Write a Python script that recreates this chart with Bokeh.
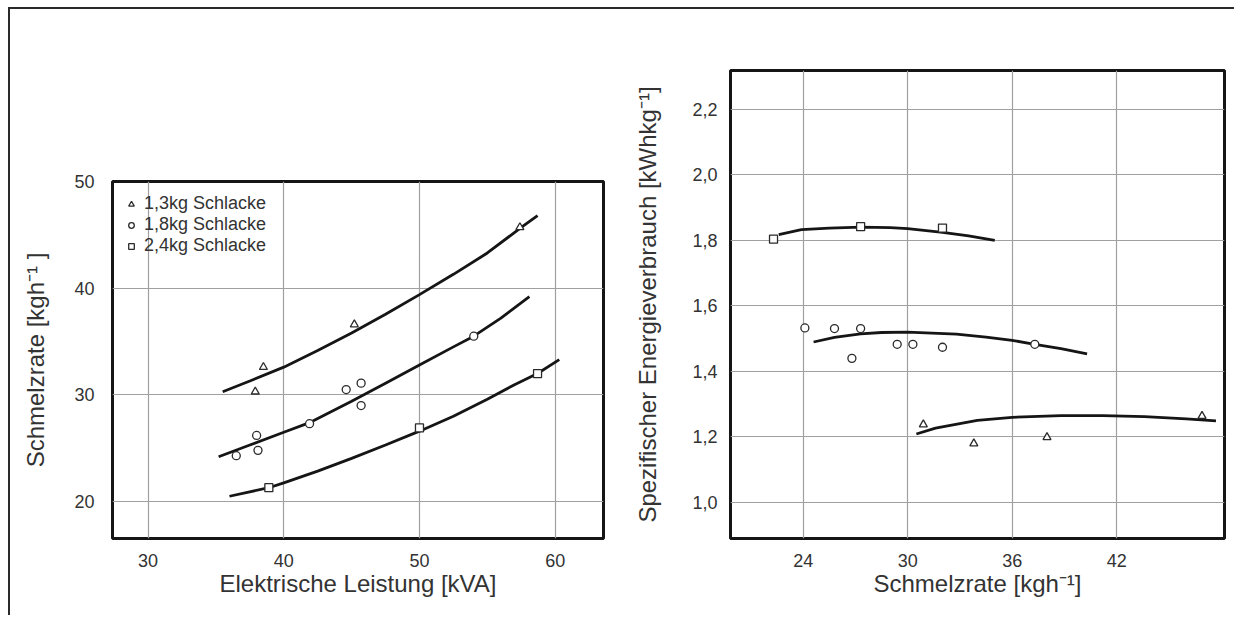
from bokeh.plotting import figure
from bokeh.layouts import row
from bokeh.models import Range1d, FixedTicker, Legend, LegendItem
from bokeh.embed import file_html
from bokeh.resources import INLINE

FONT = "Liberation Sans"
TXT = "#333333"
INK = "#151515"
GRID = "#a0a0a0"

# ---------------- left chart data ----------------
left_x_ticks = [30, 40, 50, 60]
left_y_ticks = [20, 30, 40, 50]
series_labels = ["1,3kg Schlacke", "1,8kg Schlacke", "2,4kg Schlacke"]

l_tri_x = [38.5, 37.9, 45.2, 57.4]
l_tri_y = [32.6, 30.3, 36.6, 45.7]
l_circ_x = [36.5, 38.0, 38.1, 41.9, 44.6, 45.7, 45.7, 54.0]
l_circ_y = [24.3, 26.2, 24.8, 27.3, 30.5, 31.1, 29.0, 35.5]
l_sq_x = [38.9, 50.0, 58.7]
l_sq_y = [21.3, 26.9, 32.0]

l_fit1_x = [35.5, 37.5, 40.0, 42.5, 45.0, 47.5, 50.0, 52.5, 55.0, 57.5, 58.7]
l_fit1_y = [30.3, 31.3, 32.6, 34.15, 35.8, 37.55, 39.4, 41.3, 43.3, 45.7, 46.8]
l_fit2_x = [35.2, 37.5, 40.0, 42.0, 45.0, 47.5, 50.0, 52.5, 54.0, 56.0, 58.1]
l_fit2_y = [24.2, 25.3, 26.5, 27.45, 29.4, 31.1, 32.8, 34.5, 35.5, 37.2, 39.2]
l_fit3_x = [36.0, 38.9, 40.0, 42.5, 45.0, 47.5, 50.0, 52.5, 55.0, 57.0, 58.7, 60.3]
l_fit3_y = [20.5, 21.3, 21.75, 22.85, 24.05, 25.3, 26.6, 28.0, 29.6, 30.95, 32.0, 33.3]

# ---------------- right chart data ----------------
right_x_ticks = [24, 30, 36, 42]
right_y_ticks = [1.0, 1.2, 1.4, 1.6, 1.8, 2.0, 2.2]
right_y_labels = ["1,0", "1,2", "1,4", "1,6", "1,8", "2,0", "2,2"]

r_sq_x = [22.3, 27.3, 32.0]
r_sq_y = [1.804, 1.842, 1.838]
r_circ_x = [24.1, 25.8, 27.3, 26.8, 29.4, 30.3, 32.0, 37.3]
r_circ_y = [1.533, 1.531, 1.531, 1.440, 1.483, 1.483, 1.474, 1.483]
r_tri_x = [30.9, 33.8, 38.0, 46.9]
r_tri_y = [1.238, 1.180, 1.199, 1.264]

r_fit_sq_x = [22.6, 23.9, 25.5, 27.3, 29.0, 30.0, 32.0, 33.5, 35.0]
r_fit_sq_y = [1.818, 1.833, 1.838, 1.841, 1.839, 1.836, 1.825, 1.814, 1.800]
r_fit_circ_x = [24.6, 25.8, 27.3, 28.5, 30.0, 32.8, 34.5, 36.0, 37.3, 38.8, 40.3]
r_fit_circ_y = [1.490, 1.504, 1.515, 1.519, 1.520, 1.514, 1.505, 1.495, 1.483, 1.470, 1.454]
r_fit_tri_x = [30.5, 31.6, 34.0, 36.0, 38.8, 41.2, 43.6, 46.0, 47.7]
r_fit_tri_y = [1.209, 1.227, 1.251, 1.260, 1.265, 1.265, 1.262, 1.255, 1.249]


def style(p, xlabel, ylabel, ytick_standoff, ylab_standoff):
    p.background_fill_color = "white"
    p.border_fill_color = "white"
    p.outline_line_color = INK
    p.outline_line_width = 3
    p.grid.grid_line_color = GRID
    p.grid.grid_line_width = 1.2
    for ax in p.axis:
        ax.axis_line_color = None
        ax.major_tick_line_color = None
        ax.minor_tick_line_color = None
        ax.major_label_text_font = FONT
        ax.major_label_text_font_size = "18px"
        ax.major_label_text_color = TXT
        ax.axis_label_text_font = FONT
        ax.axis_label_text_font_size = "24px"
        ax.axis_label_text_font_style = "normal"
        ax.axis_label_text_color = TXT
    p.xaxis.axis_label = xlabel
    p.yaxis.axis_label = ylabel
    p.xaxis.major_label_standoff = 9
    p.yaxis.major_label_standoff = ytick_standoff
    p.xaxis.axis_label_standoff = 0
    p.yaxis.axis_label_standoff = ylab_standoff


mk = dict(fill_color="white", line_color="#2a2a2a", line_width=1.3)
ln = dict(line_color=INK, line_width=2.8)

# ---------------- left figure ----------------
p1 = figure(output_backend="svg", toolbar_location=None,
            width=603, height=606, frame_align=False,
            min_border_left=102, min_border_right=10,
            min_border_top=172, min_border_bottom=77,
            x_range=Range1d(27.38, 63.56), y_range=Range1d(16.54, 50.0))
p1.xaxis.ticker = FixedTicker(ticks=left_x_ticks)
p1.yaxis.ticker = FixedTicker(ticks=left_y_ticks)
style(p1, "Elektrische Leistung [kVA]", "Schmelzrate [kgh\u207b\u00b9 ]", 12, 22)

p1.line(l_fit1_x, l_fit1_y, **ln)
p1.line(l_fit2_x, l_fit2_y, **ln)
p1.line(l_fit3_x, l_fit3_y, **ln)
ra = p1.scatter(l_tri_x, l_tri_y, marker="triangle", size=8, **mk)
rb = p1.scatter(l_circ_x, l_circ_y, marker="circle", size=8, **mk)
rc = p1.scatter(l_sq_x, l_sq_y, marker="square", size=8, **mk)

legend = Legend(items=[LegendItem(label=series_labels[0], renderers=[ra]),
                       LegendItem(label=series_labels[1], renderers=[rb]),
                       LegendItem(label=series_labels[2], renderers=[rc])],
                location="top_left", margin=12, padding=0, spacing=0,
                label_height=20, glyph_height=20, glyph_width=14,
                label_standoff=6, border_line_alpha=0, background_fill_alpha=0,
                label_text_font=FONT, label_text_font_size="18px",
                label_text_color=TXT)
p1.add_layout(legend)

# ---------------- right figure ----------------
p2 = figure(output_backend="svg", toolbar_location=None,
            width=621, height=606, frame_align=False,
            min_border_left=117, min_border_right=10,
            min_border_top=61, min_border_bottom=77,
            x_range=Range1d(19.83, 48.19), y_range=Range1d(0.890, 2.319))
p2.xaxis.ticker = FixedTicker(ticks=right_x_ticks)
p2.yaxis.ticker = FixedTicker(ticks=right_y_ticks)
p2.yaxis.major_label_overrides = {t: s for t, s in zip(right_y_ticks, right_y_labels)}
style(p2, "Schmelzrate [kgh\u207b\u00b9]", "Spezifischer Energieverbrauch [kWhkg\u207b\u00b9]", 7, 28)

p2.line(r_fit_sq_x, r_fit_sq_y, **ln)
p2.line(r_fit_circ_x, r_fit_circ_y, **ln)
p2.line(r_fit_tri_x, r_fit_tri_y, **ln)
p2.scatter(r_sq_x, r_sq_y, marker="square", size=8, **mk)
p2.scatter(r_circ_x, r_circ_y, marker="circle", size=8, **mk)
p2.scatter(r_tri_x, r_tri_y, marker="triangle", size=8, **mk)

layout = row(p1, p2, margin=(7, 0, 0, 8),
             styles={"border-top": "2px solid #2a2a2a",
                     "border-left": "2px solid #2a2a2a"})

open("out.html", "w").write(file_html(layout, INLINE))
